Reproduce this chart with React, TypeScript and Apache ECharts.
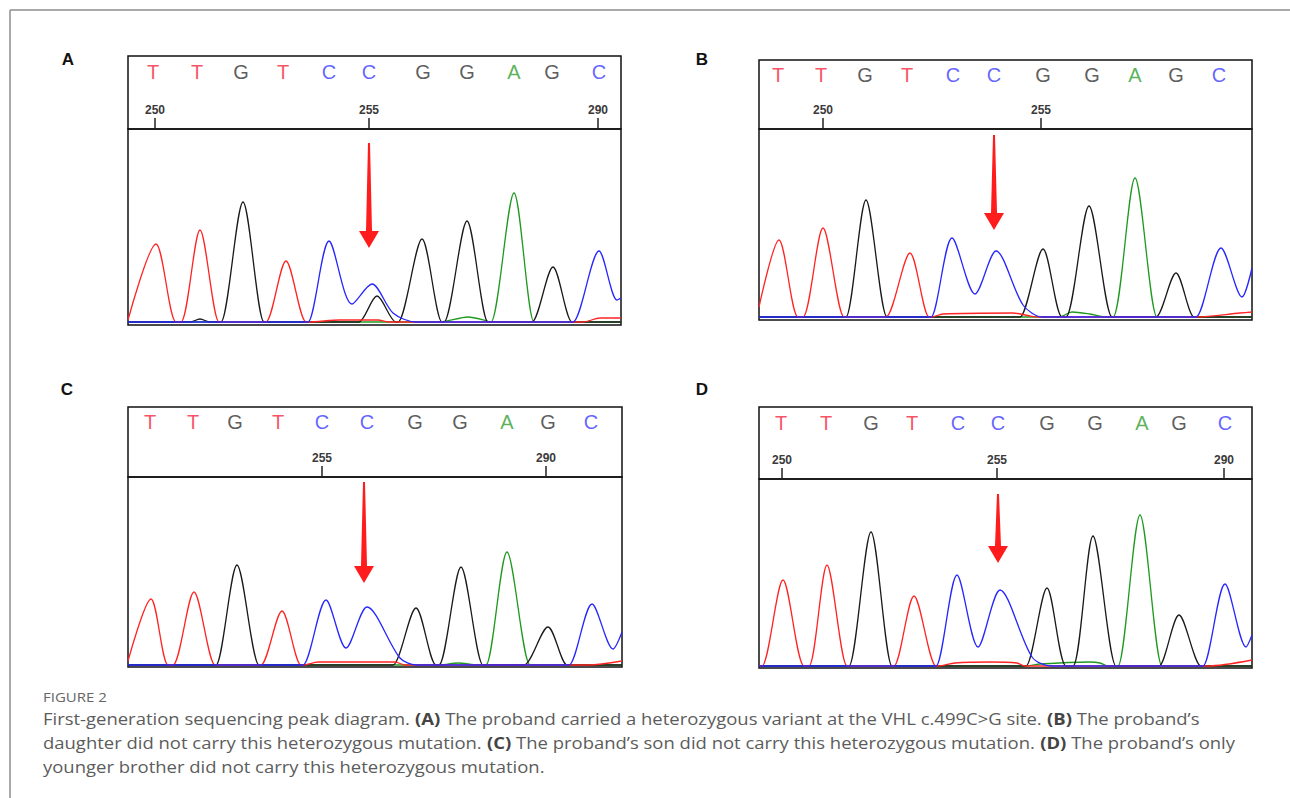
import React, { useEffect, useRef } from 'react';
import * as echarts from 'echarts';

// ---------------- DATA ----------------
const BASES = ['T', 'T', 'G', 'T', 'C', 'C', 'G', 'G', 'A', 'G', 'C'];
const PANELS = ['A', 'B', 'C', 'D'];

// base-call letter positions (scan units)
const lettersA = [25, 69, 113, 155, 201, 241, 295, 339, 386, 424, 471];
const lettersB = [19, 62, 106, 148, 194, 235, 284, 333, 376, 417, 460];
const lettersC = [22, 65, 107, 150, 194, 239, 287, 332, 379, 420, 463];
const lettersD = [22, 67, 112, 153, 199, 239, 288, 336, 383, 420, 466];

// position ruler ticks (scan units) and their labels
const ticksA = [27, 241, 470];
const tickLabelsA = ['250', '255', '290'];
const ticksB = [64, 282];
const tickLabelsB = ['250', '255'];
const ticksC = [194, 418];
const tickLabelsC = ['255', '290'];
const ticksD = [23, 238, 465];
const tickLabelsD = ['250', '255', '290'];

// trace points [scan, signal] per dye channel
const redA = [[0, 2], [28, 78], [48, 0], [53, 0], [72, 92], [91, 0], [93, 0], [136, 0], [138, 0], [158, 61], [178, 0], [180, 0], [212, 2], [250, 2], [260, 0], [455, 0], [472, 4], [493, 4]];
const blackA = [[0, 0], [62, 0], [72, 3], [82, 0], [91, 0], [93, 0], [115, 120], [136, 0], [138, 0], [229, 0], [231, 0], [249, 26], [268, 0], [270, 0], [294, 83], [314, 0], [316, 0], [339, 101], [360, 0], [362, 0], [402, 0], [404, 0], [425, 55], [444, 0], [446, 0], [493, 0]];
const blueA = [[0, 0], [178, 0], [180, 0], [201, 81], [224, 18], [244, 38], [265, 9], [288, 0], [290, 0], [443, 0], [445, 0], [471, 71], [489, 22], [493, 24]];
const greenA = [[0, 0], [312, 0], [340, 5], [359, 1], [361, 0], [363, 0], [386, 129], [406, 0], [408, 0], [493, 0]];

const redB = [[0, 10], [20, 77], [39, 0], [44, 0], [64, 89], [85, 0], [87, 0], [125, 0], [127, 0], [151, 64], [170, 0], [172, 0], [184, 3], [254, 4], [271, 1], [280, 0], [435, 0], [437, 0], [481, 4], [493, 5]];
const blackB = [[0, 0], [85, 0], [87, 0], [107, 117], [128, 0], [130, 0], [259, 0], [261, 0], [284, 68], [303, 0], [307, 0], [330, 111], [353, 0], [355, 0], [395, 0], [397, 0], [417, 44], [435, 0], [437, 0], [493, 0]];
const blueB = [[0, 0], [170, 0], [172, 0], [193, 79], [216, 23], [237, 66], [264, 12], [283, 0], [285, 0], [435, 0], [437, 0], [462, 69], [483, 20], [493, 49]];
const greenB = [[0, 0], [300, 0], [313, 5], [331, 3], [348, 0], [354, 0], [376, 139], [398, 0], [400, 0], [493, 0]];

const redC = [[0, 4], [23, 66], [40, 0], [45, 0], [66, 73], [87, 0], [89, 0], [131, 0], [133, 0], [154, 54], [173, 0], [175, 0], [190, 3], [267, 3], [277, 0], [460, 0], [494, 4]];
const blackC = [[0, 0], [86, 0], [88, 0], [109, 100], [131, 0], [133, 0], [263, 0], [265, 0], [288, 57], [308, 0], [311, 0], [333, 98], [355, 0], [357, 0], [394, 0], [396, 0], [420, 38], [439, 0], [441, 0], [494, 0]];
const blueC = [[0, 0], [173, 0], [175, 0], [198, 65], [218, 17], [239, 58], [272, 7], [288, 0], [290, 0], [439, 0], [441, 0], [464, 61], [485, 16], [494, 33]];
const greenC = [[0, 0], [312, 0], [330, 2], [350, 0], [356, 0], [358, 0], [379, 113], [402, 0], [404, 0], [494, 0]];

const redD = [[0, 0], [3, 0], [24, 86], [45, 0], [50, 0], [68, 101], [88, 0], [90, 0], [133, 0], [135, 0], [155, 70], [177, 0], [179, 0], [196, 3], [231, 4], [258, 3], [266, 0], [448, 0], [493, 6]];
const blackD = [[0, 0], [88, 0], [90, 0], [112, 134], [133, 0], [135, 0], [265, 0], [267, 0], [288, 78], [307, 0], [314, 0], [334, 130], [357, 0], [359, 0], [398, 0], [400, 0], [420, 51], [442, 0], [444, 0], [493, 0]];
const blueD = [[0, 0], [175, 0], [177, 0], [198, 91], [219, 19], [241, 76], [273, 9], [292, 0], [294, 0], [442, 0], [444, 0], [466, 82], [487, 19], [493, 31]];
const greenD = [[0, 0], [268, 0], [281, 2], [331, 4], [341, 3], [349, 0], [357, 0], [359, 0], [381, 151], [403, 0], [405, 0], [493, 0]];

// arrows: [scan, topSignal, tipSignal]
const arrowA = [241, 179, 74];
const arrowB = [235, 182, 87];
const arrowC = [236, 183, 82];
const arrowD = [239, 172, 103];

const CAPTION_TITLE = 'FIGURE 2';
const CAPTION_LINES = [
  'First-generation sequencing peak diagram. {b|(A)} The proband carried a heterozygous variant at the VHL c.499C>G site. {b|(B)} The proband\u2019s',
  'daughter did not carry this heterozygous mutation. {b|(C)} The proband\u2019s son did not carry this heterozygous mutation. {b|(D)} The proband\u2019s only',
  'younger brother did not carry this heterozygous mutation.',
];

// ---------------- STYLE / LAYOUT ----------------
const BASE_COLORS: Record<string, string> = { T: '#f5263a', G: '#333333', C: '#3b3bff', A: '#2f9e2f' };
const TRACE_COLORS = { red: '#ff2424', black: '#1a1a1a', blue: '#2626ff', green: '#1f991f' };

const LAYOUT = [
  { left: 128, top: 56, width: 493, headerH: 73, traceH: 196, yMin: -3, label: [68, 59] },
  { left: 759, top: 60, width: 493, headerH: 69, traceH: 191, yMin: -3, label: [702, 59] },
  { left: 128, top: 407, width: 494, headerH: 70, traceH: 190, yMin: -2, label: [67, 389] },
  { left: 759, top: 407, width: 493, headerH: 72, traceH: 189, yMin: -2, label: [702, 389] },
];

const PANEL_DATA = [
  { letters: lettersA, ticks: ticksA, tickLabels: tickLabelsA, red: redA, black: blackA, blue: blueA, green: greenA, arrow: arrowA },
  { letters: lettersB, ticks: ticksB, tickLabels: tickLabelsB, red: redB, black: blackB, blue: blueB, green: greenB, arrow: arrowB },
  { letters: lettersC, ticks: ticksC, tickLabels: tickLabelsC, red: redC, black: blackC, blue: blueC, green: greenC, arrow: arrowC },
  { letters: lettersD, ticks: ticksD, tickLabels: tickLabelsD, red: redD, black: blackD, blue: blueD, green: greenD, arrow: arrowD },
];

function buildOption() {
  const grid: any[] = [];
  const xAxis: any[] = [];
  const yAxis: any[] = [];
  const series: any[] = [];
  const graphic: any[] = [];

  PANEL_DATA.forEach((p, i) => {
    const L = LAYOUT[i];
    const hIdx = i * 2;
    const tIdx = i * 2 + 1;
    grid.push({ left: L.left, top: L.top, width: L.width, height: L.headerH, show: true, borderColor: '#111', borderWidth: 1.5, backgroundColor: '#fff', containLabel: false });
    grid.push({ left: L.left, top: L.top + L.headerH, width: L.width, height: L.traceH, show: true, borderColor: '#111', borderWidth: 1.5, containLabel: false });

    xAxis.push({
      gridIndex: hIdx, type: 'value', min: 0, max: L.width,
      axisLine: { show: false }, splitLine: { show: false },
      axisTick: { show: true, inside: true, length: 11, customValues: p.ticks, lineStyle: { color: '#222', width: 1.5 } },
      axisLabel: {
        show: true, inside: true, margin: 13, customValues: p.ticks,
        formatter: (v: number) => p.tickLabels[p.ticks.indexOf(v)] ?? '',
        fontSize: 12, fontFamily: 'Liberation Sans', fontWeight: 'bold', color: '#3a3a3a',
      },
    });
    xAxis.push({ gridIndex: tIdx, type: 'value', min: 0, max: L.width, show: false, splitLine: { show: false } });
    yAxis.push({ gridIndex: hIdx, type: 'value', min: 0, max: 1, show: false, splitLine: { show: false } });
    yAxis.push({ gridIndex: tIdx, type: 'value', min: L.yMin, max: L.yMin + L.traceH, show: false, splitLine: { show: false } });

    series.push({
      type: 'scatter', xAxisIndex: hIdx, yAxisIndex: hIdx, symbolSize: 1,
      itemStyle: { color: 'rgba(0,0,0,0)' },
      label: { show: true, position: 'inside', formatter: '{b}', fontSize: 20, fontFamily: 'Liberation Sans' },
      data: p.letters.map((x, k) => ({ name: BASES[k], value: [x, 0.78], label: { color: BASE_COLORS[BASES[k]] } })),
      silent: true,
    });

    (['green', 'black', 'red', 'blue'] as const).forEach((ch) => {
      series.push({
        type: 'line', xAxisIndex: tIdx, yAxisIndex: tIdx, data: (p as any)[ch],
        showSymbol: false, smooth: 0.3,
        lineStyle: { color: (TRACE_COLORS as any)[ch], width: 1.3 },
        silent: true, clip: true,
      });
    });

    series.push({
      type: 'custom', xAxisIndex: tIdx, yAxisIndex: tIdx, coordinateSystem: 'cartesian2d',
      data: [p.arrow], encode: { x: 0, y: [1, 2] }, silent: true,
      renderItem: (_params: any, api: any) => {
        const top = api.coord([api.value(0), api.value(1)]);
        const tip = api.coord([api.value(0), api.value(2)]);
        const x = top[0];
        const hy = tip[1] - 17;
        return {
          type: 'polygon',
          shape: { points: [[x - 1, top[1]], [x + 1, top[1]], [x + 3, hy], [x + 10, hy], [x, tip[1]], [x - 10, hy], [x - 3, hy]] },
          style: { fill: '#ff1c1c' },
        };
      },
    });

    graphic.push({
      type: 'text', x: L.label[0], y: L.label[1],
      style: { text: PANELS[i], font: 'bold 17px "Liberation Sans", Arial, sans-serif', fill: '#111', textAlign: 'center', textVerticalAlign: 'middle' },
    });
  });

  graphic.push({ type: 'line', shape: { x1: 10, y1: 10, x2: 1290, y2: 10 }, style: { stroke: '#8c8c8c', lineWidth: 1.5 } });
  graphic.push({ type: 'line', shape: { x1: 10, y1: 10, x2: 10, y2: 798 }, style: { stroke: '#8c8c8c', lineWidth: 1.5 } });
  graphic.push({
    type: 'text', x: 43, y: 697, scaleX: 1.25,
    style: { text: CAPTION_TITLE, font: '12px "Open Sans", sans-serif', fill: '#666', textVerticalAlign: 'middle' },
  });
  CAPTION_LINES.forEach((line, k) => {
    graphic.push({
      type: 'text', x: 43, y: 719 + k * 24, scaleX: 1.155,
      style: {
        text: line, font: '16px "Open Sans", sans-serif', fill: '#5c5c5c', textVerticalAlign: 'middle',
        rich: { b: { fontWeight: 'bold', fontSize: 16, fontFamily: 'Open Sans', fill: '#444' } },
      },
    });
  });

  return { animation: false, backgroundColor: '#fff', grid, xAxis, yAxis, series, graphic };
}

export default function App() {
  const ref = useRef<HTMLDivElement>(null);
  useEffect(() => {
    if (!ref.current) return;
    const chart = echarts.init(ref.current, undefined, { renderer: 'svg' });
    chart.setOption(buildOption() as any);
    return () => chart.dispose();
  }, []);
  return <div ref={ref} style={{ position: 'fixed', left: 0, top: 0, width: 1290, height: 798, background: '#fff' }} />;
}
